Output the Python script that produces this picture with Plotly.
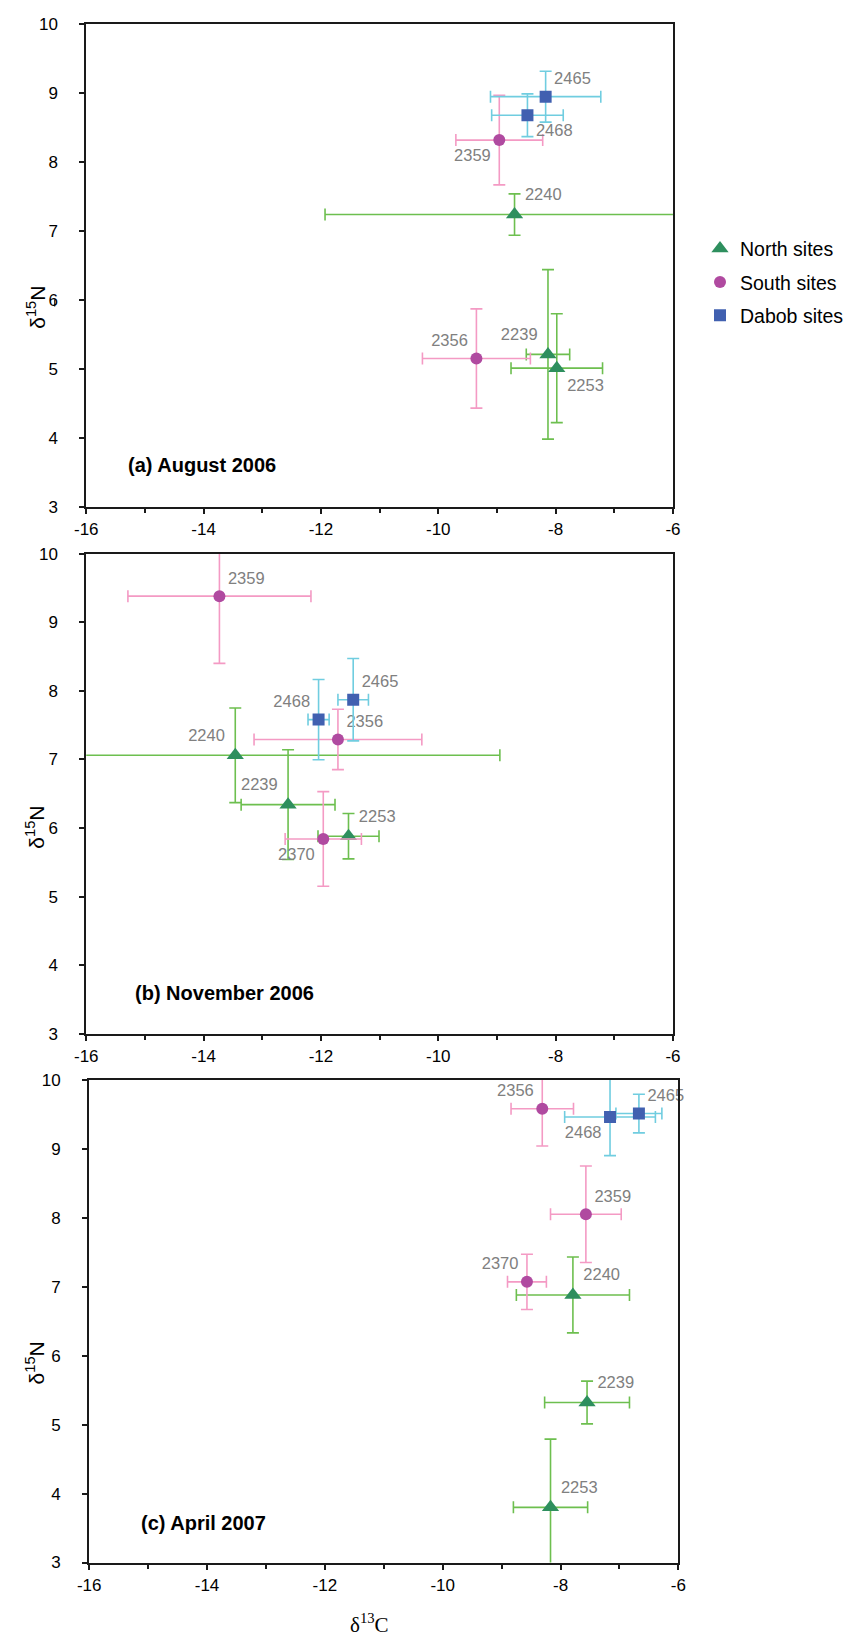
import plotly.graph_objects as go

# ---------------- data: mean δ13C / δ15N with ± SD ----------------
# (a) August 2006
a_north_sites = ["2240", "2239", "2253"]
a_north_c = [-8.70, -8.13, -7.98]
a_north_n = [7.24, 5.21, 5.01]
a_north_c_err = [3.23, 0.37, 0.78]
a_north_n_err = [0.30, 1.23, 0.79]

a_south_sites = ["2359", "2356"]
a_south_c = [-8.96, -9.35]
a_south_n = [8.32, 5.15]
a_south_c_err = [0.74, 0.92]
a_south_n_err = [0.65, 0.72]

a_dabob_sites = ["2465", "2468"]
a_dabob_c = [-8.17, -8.48]
a_dabob_n = [8.95, 8.68]
a_dabob_c_err = [0.94, 0.61]
a_dabob_n_err = [0.37, 0.31]

# (b) November 2006
b_north_sites = ["2240", "2239", "2253"]
b_north_c = [-13.46, -12.56, -11.53]
b_north_n = [7.06, 6.34, 5.88]
b_north_c_err = [4.51, 0.80, 0.52]
b_north_n_err = [0.69, 0.80, 0.33]

b_south_sites = ["2359", "2356", "2370"]
b_south_c = [-13.73, -11.71, -11.96]
b_south_n = [9.38, 7.29, 5.84]
b_south_c_err = [1.56, 1.43, 0.65]
b_south_n_err = [0.98, 0.44, 0.69]

b_dabob_sites = ["2465", "2468"]
b_dabob_c = [-11.45, -12.04]
b_dabob_n = [7.87, 7.58]
b_dabob_c_err = [0.26, 0.18]
b_dabob_n_err = [0.60, 0.585]

# (c) April 2007
c_north_sites = ["2240", "2239", "2253"]
c_north_c = [-7.79, -7.55, -8.17]
c_north_n = [6.88, 5.32, 3.80]
c_north_c_err = [0.96, 0.72, 0.63]
c_north_n_err = [0.55, 0.31, 0.99]

c_south_sites = ["2356", "2359", "2370"]
c_south_c = [-8.31, -7.57, -8.57]
c_south_n = [9.58, 8.05, 7.07]
c_south_c_err = [0.53, 0.60, 0.33]
c_south_n_err = [0.54, 0.70, 0.40]

c_dabob_sites = ["2465", "2468"]
c_dabob_c = [-6.67, -7.16]
c_dabob_n = [9.51, 9.46]
c_dabob_c_err = [0.39, 0.77]
c_dabob_n_err = [0.28, 0.56]

group_names = ["North sites", "South sites", "Dabob sites"]
panel_titles = ["(a) August 2006", "(b) November 2006", "(c) April 2007"]
x_ticks = [-16, -14, -12, -10, -8, -6]
x_minor = [-15, -13, -11, -9, -7]
y_ticks = [3, 4, 5, 6, 7, 8, 9, 10]

# label placement (style only)
a_pos = [["top right", "top left", "bottom right"], ["bottom left", "top left"], ["top right", "bottom right"]]
b_pos = [["top left", "top left", "top right"], ["top right", "top right", "bottom left"], ["top right", "top left"]]
c_pos = [["top right", "top right", "top right"], ["top left", "top right", "top left"], ["top right", "bottom left"]]

# ---------------- styling ----------------
W, H = 849, 1644
FONT = "Liberation Sans, Arial, sans-serif"
styles = [
    dict(symbol="triangle-up", size=15, color="#2e8f5e", err="#6dbf4f"),
    dict(symbol="circle", size=12, color="#b04aa0", err="#f49ac4"),
    dict(symbol="square", size=12, color="#4160b0", err="#70cde0"),
]

def fx(p):
    return p / W

def fy(p):
    return 1 - p / H

panel_geo = [
    dict(x0=76.5, x1=681.0, top=15.5, bot=503.5, ytitle=302, label=(117.0, 461)),
    dict(x0=76.5, x1=681.0, top=551.0, bot=1036.7, ytitle=828, label=(125.0, 996)),
    dict(x0=79.5, x1=686.6, top=1083.3, bot=1571.7, ytitle=1370, label=(130.5, 1532)),
]

panel_data = [
    [(a_north_sites, a_north_c, a_north_n, a_north_c_err, a_north_n_err),
     (a_south_sites, a_south_c, a_south_n, a_south_c_err, a_south_n_err),
     (a_dabob_sites, a_dabob_c, a_dabob_n, a_dabob_c_err, a_dabob_n_err)],
    [(b_north_sites, b_north_c, b_north_n, b_north_c_err, b_north_n_err),
     (b_south_sites, b_south_c, b_south_n, b_south_c_err, b_south_n_err),
     (b_dabob_sites, b_dabob_c, b_dabob_n, b_dabob_c_err, b_dabob_n_err)],
    [(c_north_sites, c_north_c, c_north_n, c_north_c_err, c_north_n_err),
     (c_south_sites, c_south_c, c_south_n, c_south_c_err, c_south_n_err),
     (c_dabob_sites, c_dabob_c, c_dabob_n, c_dabob_c_err, c_dabob_n_err)],
]
panel_pos = [a_pos, b_pos, c_pos]

fig = go.Figure()
annotations = []
layout_axes = {}

for i, (geo, groups, poss) in enumerate(zip(panel_geo, panel_data, panel_pos)):
    sfx = "" if i == 0 else str(i + 1)
    xa, ya = "x" + sfx, "y" + sfx
    axis_common = dict(
        showgrid=False, zeroline=False, showline=True, linecolor="#1a1a1a",
        linewidth=2, mirror=True, ticks="outside", tickcolor="#1a1a1a",
        tickwidth=1.5, ticklen=5,
        tickfont=dict(family=FONT, size=17, color="black"),
    )
    layout_axes["xaxis" + sfx] = dict(
        axis_common, domain=[fx(geo["x0"]), fx(geo["x1"])], range=[-16, -6],
        anchor=ya, tickvals=x_ticks, ticktext=[str(v) for v in x_ticks],
        ticklabelstandoff=1,
        minor=dict(tickvals=x_minor, ticks="outside", ticklen=4,
                   tickcolor="#1a1a1a", tickwidth=1.5),
    )
    layout_axes["yaxis" + sfx] = dict(
        axis_common, domain=[fy(geo["bot"]), fy(geo["top"])], range=[3, 10],
        anchor=xa, tickvals=y_ticks, ticktext=[str(v) for v in y_ticks],
        ticklabelstandoff=18,
    )
    for g, (grp, pos) in enumerate(zip(groups, poss)):
        sites, cx, ny, cerr, nerr = grp
        st = styles[g]
        fig.add_trace(go.Scatter(
            x=cx, y=ny, mode="markers", xaxis=xa, yaxis=ya,
            name=group_names[g], legendgroup=group_names[g],
            showlegend=(i == 0),
            marker=dict(symbol=st["symbol"], size=st["size"], color=st["color"]),
            error_x=dict(type="data", array=cerr, visible=True, color=st["err"],
                         thickness=1.6, width=6),
            error_y=dict(type="data", array=nerr, visible=True, color=st["err"],
                         thickness=1.6, width=6),
            hoverinfo="skip",
        ))
        fig.add_trace(go.Scatter(
            x=cx, y=ny, mode="markers+text", xaxis=xa, yaxis=ya,
            text=sites, textposition=pos, showlegend=False, cliponaxis=False,
            marker=dict(symbol=st["symbol"], size=st["size"], color="rgba(0,0,0,0)"),
            textfont=dict(family=FONT, size=16.5, color="#808080"),
            hoverinfo="skip",
        ))
    annotations.append(dict(
        text="δ<sup>15</sup>N", xref="paper", yref="paper", x=fx(24), y=fy(geo["ytitle"]),
        showarrow=False, textangle=-90, xanchor="center", yanchor="middle",
        font=dict(family=FONT, size=21, color="black"),
    ))
    lx, ly = geo["label"]
    annotations.append(dict(
        text="<b>" + panel_titles[i] + "</b>", xref="paper", yref="paper",
        x=fx(lx), y=fy(ly), showarrow=False, xanchor="left", yanchor="middle",
        font=dict(family=FONT, size=20, color="black"),
    ))

annotations.append(dict(
    text="δ<sup>13</sup>C", xref="paper", yref="paper", x=fx(368), y=fy(1633),
    showarrow=False, xanchor="center", yanchor="middle",
    font=dict(family="Liberation Serif, Times New Roman, serif", size=21, color="black"),
))

fig.update_layout(
    width=W, height=H, margin=dict(l=0, r=0, t=0, b=0),
    paper_bgcolor="white", plot_bgcolor="white",
    annotations=annotations,
    shapes=[dict(type="line", xref="paper", yref="paper", x0=fx(44), x1=fx(44),
                 y0=fy(294), y1=fy(301), line=dict(color="black", width=1))],
    legend=dict(x=fx(709), y=fy(223), xanchor="left", yanchor="top",
                font=dict(family=FONT, size=19.5, color="black"),
                bgcolor="rgba(0,0,0,0)", tracegroupgap=5, itemwidth=30),
    showlegend=True,
    **layout_axes,
)

fig.write_html("out.html")
